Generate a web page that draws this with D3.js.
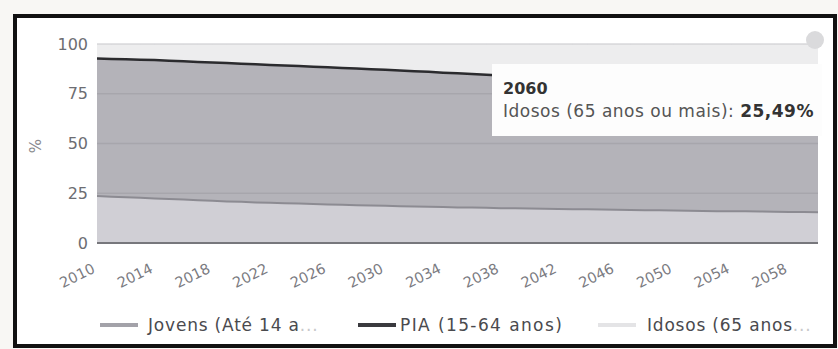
<!DOCTYPE html>
<html>
<head>
<meta charset="utf-8">
<script src="https://cdn.jsdelivr.net/npm/d3@7"></script>
<style>
  body { margin: 0; background: #f8f7f4; }
  text { font-family: "DejaVu Sans", Verdana, sans-serif; }
</style>
</head>
<body>
<div class="chart"></div>
<script>
// data (percent of population)
var years = d3.range(2010, 2061);
var jovens = [23.6, 23.3, 23.0, 22.7, 22.4, 22.1, 21.8, 21.5, 21.2, 20.9,
  20.7, 20.4, 20.2, 20.0, 19.8, 19.6, 19.4, 19.2, 19.0, 18.9,
  18.7, 18.5, 18.4, 18.2, 18.1, 17.9, 17.8, 17.7, 17.5, 17.4,
  17.3, 17.2, 17.1, 17.0, 16.9, 16.8, 16.7, 16.6, 16.5, 16.4,
  16.3, 16.2, 16.1, 16.0, 15.9, 15.9, 15.8, 15.7, 15.6, 15.6, 15.5];
var pia = [69.1, 69.2, 69.3, 69.4, 69.5, 69.5, 69.5, 69.5, 69.5, 69.5,
  69.4, 69.4, 69.3, 69.2, 69.1, 69.0, 68.9, 68.8, 68.7, 68.4,
  68.3, 68.2, 67.9, 67.8, 67.5, 67.4, 67.1, 66.8, 66.7, 66.4,
  66.0, 65.7, 65.3, 65.0, 64.6, 64.2, 63.9, 63.5, 63.2, 62.8,
  62.5, 62.1, 61.8, 61.4, 61.1, 60.7, 60.4, 60.1, 59.8, 59.3, 59.01];
var idosos = [7.3, 7.5, 7.7, 7.9, 8.1, 8.4, 8.7, 9.0, 9.3, 9.6,
  9.9, 10.2, 10.5, 10.8, 11.1, 11.4, 11.7, 12.0, 12.3, 12.7,
  13.0, 13.3, 13.7, 14.0, 14.4, 14.7, 15.1, 15.5, 15.8, 16.2,
  16.7, 17.1, 17.6, 18.0, 18.5, 19.0, 19.4, 19.9, 20.3, 20.8,
  21.2, 21.7, 22.1, 22.6, 23.0, 23.4, 23.8, 24.2, 24.6, 25.1, 25.49];
var xTicks = [2010, 2014, 2018, 2022, 2026, 2030, 2034, 2038, 2042, 2046, 2050, 2054, 2058];
var yTicks = [0, 25, 50, 75, 100];
var seriesNames = ["Jovens (Até 14 a", "PIA (15-64 anos)", "Idosos (65 anos"];

var svgWidth = 838;
var svgHeight = 349;

var svg = d3.select(".chart")
  .append("svg")
  .attr("width", svgWidth)
  .attr("height", svgHeight);

// white chart background inside the frame
svg.append("rect")
  .attr("x", 15)
  .attr("y", 16)
  .attr("width", 820)
  .attr("height", 330)
  .attr("fill", "#fff");

// scales
var xScale = d3.scaleLinear().domain([2010, 2060]).range([97, 818]);
var yScale = d3.scaleLinear().domain([0, 100]).range([243, 44]);

// build table for the stack
var table = years.map(function(y, i) {
  return { year: y, jovens: jovens[i], pia: pia[i], idosos: idosos[i] };
});
var stacked = d3.stack().keys(["jovens", "pia", "idosos"])(table);

var fills = ["#d0cfd5", "#b4b3b9", "#ededee"];
var strokes = ["#8c8b92", "#2b2b2e", "#e2e2e4"];
var strokeW = [2, 2.5, 1];

// areas
var area = d3.area()
  .x(d => xScale(d.data.year))
  .y0(d => yScale(d[0]))
  .y1(d => yScale(d[1]));

svg.selectAll(".area")
  .data(stacked)
  .enter()
  .append("path")
  .attr("class", "area")
  .attr("d", area)
  .attr("fill", (d, i) => fills[i]);

// grid lines
svg.append("g")
  .selectAll("line")
  .data(yTicks.slice(1))
  .enter()
  .append("line")
  .attr("x1", xScale(2010))
  .attr("x2", xScale(2060))
  .attr("y1", d => yScale(d))
  .attr("y2", d => yScale(d))
  .attr("stroke", "#8e8e94")
  .attr("stroke-opacity", 0.35)
  .attr("stroke-width", 1.5);

// top lines of each series
var line = d3.line()
  .x(d => xScale(d.data.year))
  .y(d => yScale(d[1]));

svg.selectAll(".sline")
  .data(stacked)
  .enter()
  .append("path")
  .attr("class", "sline")
  .attr("d", line)
  .attr("fill", "none")
  .attr("stroke", (d, i) => strokes[i])
  .attr("stroke-width", (d, i) => strokeW[i]);

// zero axis line
svg.append("line")
  .attr("x1", xScale(2010))
  .attr("x2", xScale(2060))
  .attr("y1", yScale(0))
  .attr("y2", yScale(0))
  .attr("stroke", "#77777c")
  .attr("stroke-width", 2);

// y labels
svg.append("g")
  .selectAll("text")
  .data(yTicks)
  .enter()
  .append("text")
  .attr("x", 88)
  .attr("y", d => yScale(d))
  .attr("dy", "0.35em")
  .attr("text-anchor", "end")
  .attr("font-size", 16)
  .attr("fill", "#6d6d72")
  .text(d => d);

svg.append("text")
  .attr("transform", "translate(41, 146) rotate(-90)")
  .attr("text-anchor", "middle")
  .attr("font-size", 15)
  .attr("fill", "#8a8a8e")
  .text("%");

// x labels
svg.append("g")
  .selectAll("text")
  .data(xTicks)
  .enter()
  .append("text")
  .attr("transform", d => `translate(${xScale(d) - 1}, 272) rotate(-26)`)
  .attr("text-anchor", "end")
  .attr("font-size", 14.5)
  .attr("fill", "#7a7a7f")
  .text(d => d);

// tooltip
var tip = svg.append("g");
tip.append("rect")
  .attr("x", 492)
  .attr("y", 64)
  .attr("width", 330)
  .attr("height", 72)
  .attr("fill", "#fdfdfd");
tip.append("text")
  .attr("x", 503)
  .attr("y", 94)
  .attr("font-size", 16)
  .attr("font-weight", "bold")
  .attr("fill", "#333")
  .text(years[years.length - 1]);
var tipLine = tip.append("text")
  .attr("x", 503)
  .attr("y", 117)
  .attr("font-size", 17)
  .attr("letter-spacing", 0.5)
  .attr("fill", "#555");
tipLine.append("tspan").text("Idosos (65 anos ou mais): ");
tipLine.append("tspan")
  .attr("font-weight", "bold")
  .attr("fill", "#333")
  .text(idosos[idosos.length - 1].toFixed(2).replace(".", ",") + "%");

// legend
var legX = [100, 358, 598];
var legCol = ["#a3a2a9", "#3a3a3e", "#e4e4e6"];
var legend = svg.append("g");
seriesNames.forEach(function(name, i) {
  legend.append("line")
    .attr("x1", legX[i])
    .attr("x2", legX[i] + 38)
    .attr("y1", 325)
    .attr("y2", 325)
    .attr("stroke", legCol[i])
    .attr("stroke-width", 4);
  var t = legend.append("text")
    .attr("x", legX[i] + (i == 2 ? 49 : (i == 1 ? 42 : 48)))
    .attr("y", 325)
    .attr("dy", "0.35em")
    .attr("font-size", 17)
    .attr("letter-spacing", i == 1 ? 1.4 : 0.8)
    .attr("fill", "#4a4a4e");
  t.append("tspan").text(name);
  if (i != 1) {
    t.append("tspan").attr("fill", "#c8c8ca").text("...");
  }
});

// export button blob
svg.append("circle")
  .attr("cx", 815)
  .attr("cy", 40)
  .attr("r", 9)
  .attr("fill", "#dadadc");

// frame
svg.append("rect")
  .attr("x", 15)
  .attr("y", 16)
  .attr("width", 820)
  .attr("height", 330)
  .attr("fill", "none")
  .attr("stroke", "#111")
  .attr("stroke-width", 4);
</script>
</body>
</html>
